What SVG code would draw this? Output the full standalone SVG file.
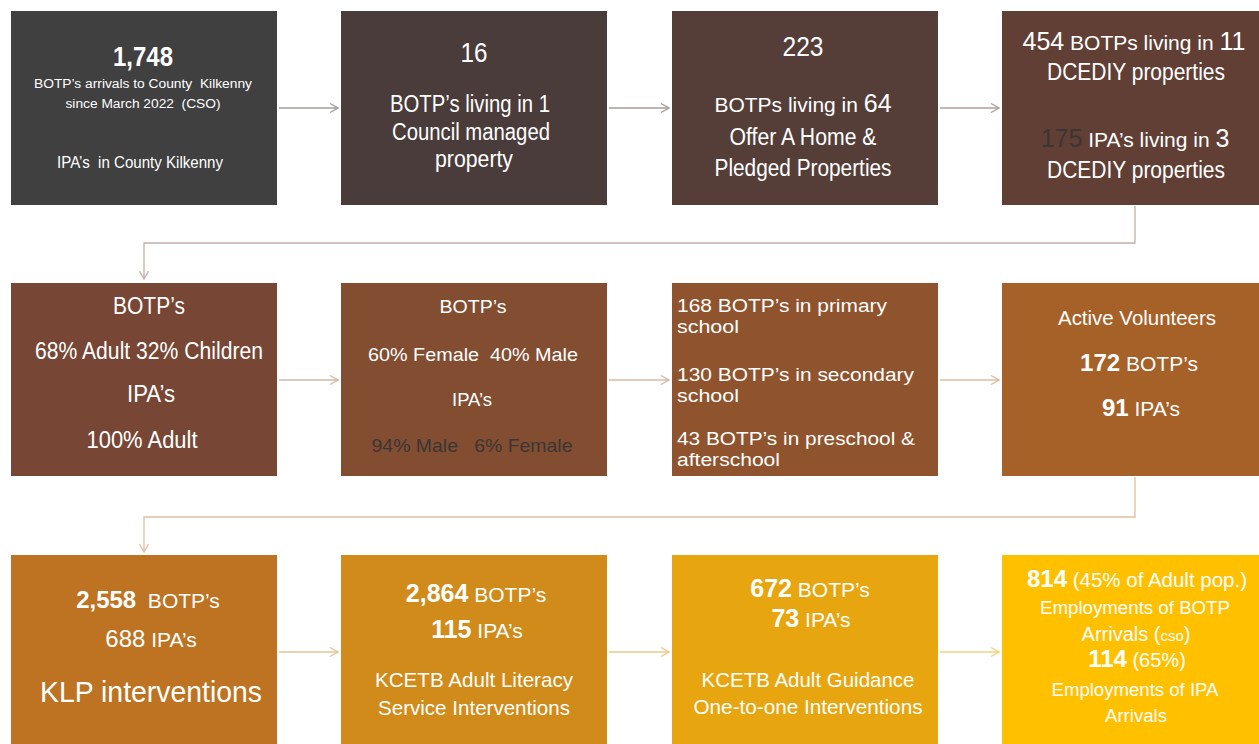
<svg xmlns="http://www.w3.org/2000/svg" width="1259" height="744" viewBox="0 0 1259 744">
<style>
text{font-family:"Liberation Sans",Arial,sans-serif;fill:#ffffff;text-anchor:middle}
.b{font-weight:bold}
.dk{fill:#3a3634}
.l{text-anchor:start}
.c{fill:none;stroke-width:1.3}
</style>
<defs>
<marker id="ah" viewBox="0 0 10 10" refX="9" refY="5" markerWidth="10" markerHeight="10" markerUnits="userSpaceOnUse" orient="auto">
<path d="M1,0.5 L9,5 L1,9.5" fill="none" stroke="context-stroke" stroke-width="1.3"/>
</marker>
</defs>
<rect width="1259" height="744" fill="#ffffff"/>
<g id="connectors">
<path class="c" d="M279,108 H338" stroke="#a09c9a" marker-end="url(#ah)"/>
<path class="c" d="M609,108 H669" stroke="#a89a96" marker-end="url(#ah)"/>
<path class="c" d="M940,108 H999" stroke="#b09f99" marker-end="url(#ah)"/>
<path class="c" d="M1135,206 V243 H144 V279" stroke="#c4aea8" marker-end="url(#ah)"/>
<path class="c" d="M279,380 H338" stroke="#d2b8aa" marker-end="url(#ah)"/>
<path class="c" d="M609,380 H669" stroke="#d6baa6" marker-end="url(#ah)"/>
<path class="c" d="M940,380 H999" stroke="#dcbca0" marker-end="url(#ah)"/>
<path class="c" d="M1135,477 V517 H144 V552" stroke="#dcc0a0" marker-end="url(#ah)"/>
<path class="c" d="M279,652 H338" stroke="#e6c494" marker-end="url(#ah)"/>
<path class="c" d="M609,652 H669" stroke="#ecc98a" marker-end="url(#ah)"/>
<path class="c" d="M940,652 H999" stroke="#f2d080" marker-end="url(#ah)"/>
</g>
<g id="n1">
<rect x="11" y="11" width="266" height="194" fill="#404040"/>
<text x="143" y="66" font-size="27" class="b" textLength="60" lengthAdjust="spacingAndGlyphs">1,748</text>
<text x="143" y="88" font-size="12" textLength="218" lengthAdjust="spacingAndGlyphs" xml:space="preserve">BOTP’s arrivals to County  Kilkenny</text>
<text x="143" y="108" font-size="12" textLength="155" lengthAdjust="spacingAndGlyphs" xml:space="preserve">since March 2022  (CSO)</text>
<text x="140" y="168" font-size="17" textLength="166" lengthAdjust="spacingAndGlyphs" xml:space="preserve">IPA’s  in County Kilkenny</text>
</g>
<g id="n2">
<rect x="341" y="11" width="266" height="194" fill="#4a3c3a"/>
<text x="474" y="62" font-size="27" textLength="27" lengthAdjust="spacingAndGlyphs">16</text>
<text x="470" y="112" font-size="23" textLength="160" lengthAdjust="spacingAndGlyphs">BOTP’s living in 1</text>
<text x="471" y="140" font-size="23" textLength="158" lengthAdjust="spacingAndGlyphs">Council managed</text>
<text x="474" y="167" font-size="23" textLength="78" lengthAdjust="spacingAndGlyphs">property</text>
</g>
<g id="n3">
<rect x="672" y="11" width="266" height="194" fill="#553e38"/>
<text x="803" y="56" font-size="27" textLength="41" lengthAdjust="spacingAndGlyphs">223</text>
<text x="803" y="112" font-size="21">BOTPs living in <tspan font-size="25">64</tspan></text>
<text x="803" y="145" font-size="23" textLength="147" lengthAdjust="spacingAndGlyphs">Offer A Home &amp;</text>
<text x="803" y="176" font-size="23" textLength="177" lengthAdjust="spacingAndGlyphs">Pledged Properties</text>
</g>
<g id="n4">
<rect x="1002" y="11" width="257" height="194" fill="#613f35"/>
<text x="1134" y="50" font-size="21"><tspan font-size="25">454</tspan> BOTPs living in <tspan font-size="25">11</tspan></text>
<text x="1136" y="80" font-size="23" textLength="178" lengthAdjust="spacingAndGlyphs">DCEDIY properties</text>
<text x="1135" y="147" font-size="21"><tspan class="dk" font-size="25">175</tspan> IPA’s living in <tspan font-size="25">3</tspan></text>
<text x="1136" y="178" font-size="23" textLength="178" lengthAdjust="spacingAndGlyphs">DCEDIY properties</text>
</g>
<g id="n5">
<rect x="11" y="283" width="266" height="193" fill="#774634"/>
<text x="149" y="314" font-size="23" textLength="72" lengthAdjust="spacingAndGlyphs">BOTP’s</text>
<text x="149" y="359" font-size="23" textLength="228" lengthAdjust="spacingAndGlyphs">68% Adult 32% Children</text>
<text x="151" y="402" font-size="23" textLength="48" lengthAdjust="spacingAndGlyphs">IPA’s</text>
<text x="142" y="448" font-size="23" textLength="111" lengthAdjust="spacingAndGlyphs">100% Adult</text>
</g>
<g id="n6">
<rect x="341" y="283" width="266" height="193" fill="#834d31"/>
<text x="473" y="313" font-size="19" textLength="67" lengthAdjust="spacingAndGlyphs">BOTP’s</text>
<text x="473" y="361" font-size="19" textLength="210" lengthAdjust="spacingAndGlyphs" xml:space="preserve">60% Female  40% Male</text>
<text x="472" y="406" font-size="19" textLength="40" lengthAdjust="spacingAndGlyphs">IPA’s</text>
<text x="472" y="452" font-size="19" class="dk" textLength="201" lengthAdjust="spacingAndGlyphs" xml:space="preserve">94% Male   6% Female</text>
</g>
<g id="n7">
<rect x="672" y="283" width="266" height="193" fill="#8f532d"/>
<text x="677" y="312" font-size="18.8" class="l" textLength="210" lengthAdjust="spacingAndGlyphs">168 BOTP’s in primary</text>
<text x="677" y="333" font-size="18.8" class="l" textLength="62" lengthAdjust="spacingAndGlyphs">school</text>
<text x="677" y="381" font-size="18.8" class="l" textLength="237" lengthAdjust="spacingAndGlyphs">130 BOTP’s in secondary</text>
<text x="677" y="402" font-size="18.8" class="l" textLength="62" lengthAdjust="spacingAndGlyphs">school</text>
<text x="677" y="445" font-size="18.8" class="l" textLength="238" lengthAdjust="spacingAndGlyphs">43 BOTP’s in preschool &amp;</text>
<text x="677" y="466" font-size="18.8" class="l" textLength="103" lengthAdjust="spacingAndGlyphs">afterschool</text>
</g>
<g id="n8">
<rect x="1002" y="283" width="257" height="193" fill="#a66129"/>
<text x="1137" y="325" font-size="20" textLength="158" lengthAdjust="spacingAndGlyphs">Active Volunteers</text>
<text x="1139" y="371" font-size="21"><tspan class="b" font-size="24">172</tspan> BOTP’s</text>
<text x="1141" y="416" font-size="21"><tspan class="b" font-size="24">91</tspan> IPA’s</text>
</g>
<g id="n9">
<rect x="11" y="555" width="266" height="189" fill="#bd7321"/>
<text x="148" y="608" font-size="21" xml:space="preserve"><tspan class="b" font-size="24">2,558</tspan>  BOTP’s</text>
<text x="151" y="647" font-size="21"><tspan font-size="24">688</tspan> IPA’s</text>
<text x="151" y="702" font-size="29" textLength="222" lengthAdjust="spacingAndGlyphs">KLP interventions</text>
</g>
<g id="n10">
<rect x="341" y="555" width="266" height="189" fill="#d18b1a"/>
<text x="476" y="602" font-size="21"><tspan class="b" font-size="25">2,864</tspan> BOTP’s</text>
<text x="477" y="638" font-size="21"><tspan class="b" font-size="25">115</tspan> IPA’s</text>
<text x="474" y="687" font-size="21" textLength="198" lengthAdjust="spacingAndGlyphs">KCETB Adult Literacy</text>
<text x="474" y="715" font-size="21" textLength="192" lengthAdjust="spacingAndGlyphs">Service Interventions</text>
</g>
<g id="n11">
<rect x="672" y="555" width="266" height="189" fill="#e7a510"/>
<text x="810" y="597" font-size="21"><tspan class="b" font-size="25">672</tspan> BOTP’s</text>
<text x="811" y="627" font-size="21"><tspan class="b" font-size="25">73</tspan> IPA’s</text>
<text x="808" y="687" font-size="21" textLength="213" lengthAdjust="spacingAndGlyphs">KCETB Adult Guidance</text>
<text x="808" y="714" font-size="21" textLength="229" lengthAdjust="spacingAndGlyphs">One-to-one Interventions</text>
</g>
<g id="n12">
<rect x="1002" y="555" width="257" height="189" fill="#ffc000"/>
<text x="1137" y="587" font-size="20.5"><tspan class="b" font-size="24">814</tspan> (45% of Adult pop.)</text>
<text x="1135" y="614" font-size="18" textLength="190" lengthAdjust="spacingAndGlyphs">Employments of BOTP</text>
<text x="1136" y="641" font-size="20">Arrivals (<tspan font-size="15">cso</tspan>)</text>
<text x="1137" y="667" font-size="20"><tspan class="b" font-size="24">114</tspan> (65%)</text>
<text x="1135" y="696" font-size="18" textLength="167" lengthAdjust="spacingAndGlyphs">Employments of IPA</text>
<text x="1136" y="722" font-size="18" textLength="62" lengthAdjust="spacingAndGlyphs">Arrivals</text>
</g>
</svg>
